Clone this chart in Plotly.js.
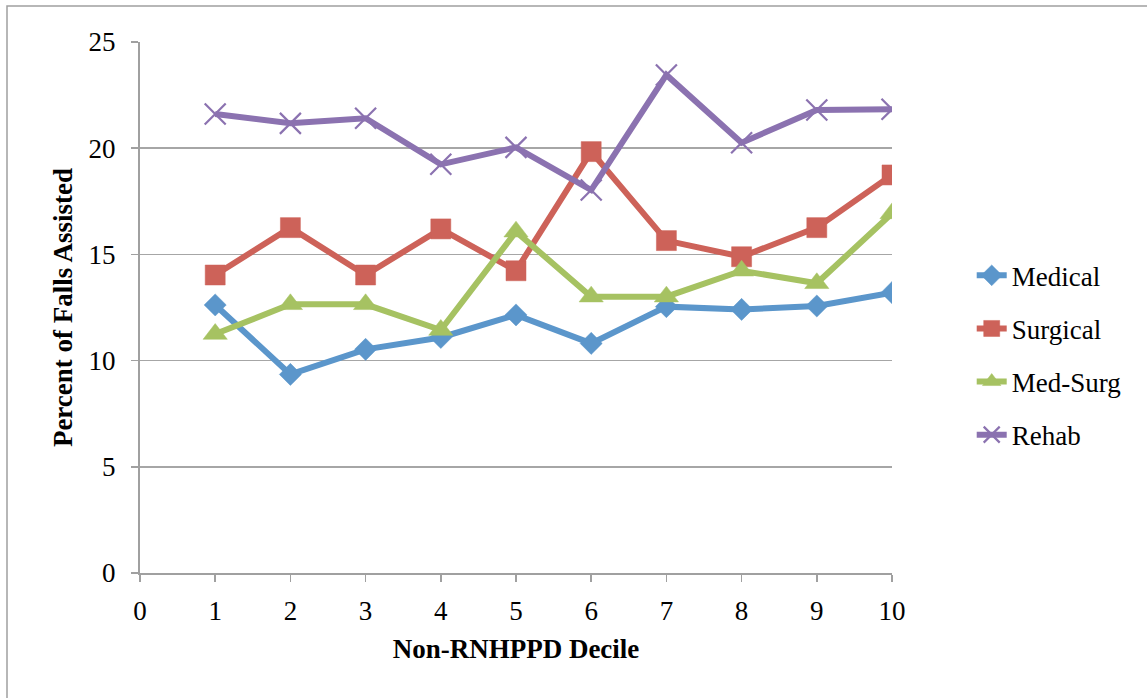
<!DOCTYPE html>
<html>
<head>
<meta charset="utf-8">
<script src="https://cdn.plot.ly/plotly-3.0.1.min.js"></script>
<style>
  html, body { margin: 0; padding: 0; background: #fff; }
  #chart { width: 1147px; height: 698px; }
</style>
</head>
<body>
<div id="chart"></div>
<script>
const deciles = [1, 2, 3, 4, 5, 6, 7, 8, 9, 10];
const medical = [12.62, 9.35, 10.53, 11.09, 12.15, 10.81, 12.54, 12.41, 12.57, 13.20];
const surgical = [14.03, 16.26, 14.03, 16.20, 14.23, 19.84, 15.65, 14.89, 16.26, 18.74];
const medSurg = [11.25, 12.65, 12.65, 11.44, 16.07, 13.01, 13.01, 14.23, 13.64, 16.93];
const rehab = [21.61, 21.17, 21.41, 19.24, 20.04, 18.03, 23.45, 20.26, 21.80, 21.83];
const xTickVals = [0, 1, 2, 3, 4, 5, 6, 7, 8, 9, 10];
const yTickVals = [0, 5, 10, 15, 20, 25];

const FONT = "'Liberation Serif', 'DejaVu Serif', serif";

function series(name, y, color, symbol, size, group) {
  const isX = symbol === 'x-thin';
  return {
    type: 'scatter', mode: 'lines+markers', name: name, x: deciles, y: y,
    legendgroup: group,
    line: { color: color, width: 6 },
    marker: {
      symbol: symbol, size: size, color: color,
      line: { color: color, width: isX ? 2.2 : 0.5 }
    }
  };
}

const data = [
  series('Medical', medical, '#5B96CB', 'diamond', 17, 'g1'),
  series('Surgical', surgical, '#CD6259', 'square', 20, 'g2'),
  series('Med-Surg', medSurg, '#A6C262', 'triangle-up', 21, 'g3'),
  series('Rehab', rehab, '#8B72B0', 'x-thin', 21, 'g4')
];

const layout = {
  width: 1147, height: 698,
  margin: { l: 140, r: 255, t: 42, b: 125 },
  paper_bgcolor: '#fff', plot_bgcolor: '#fff',
  font: { family: FONT, size: 27, color: '#000' },
  showlegend: true,
  legend: {
    x: 1.106, xanchor: 'left', y: 0.41, yanchor: 'middle',
    traceorder: 'grouped', tracegroupgap: 15,
    font: { family: FONT, size: 27, color: '#000' },
    bgcolor: 'rgba(0,0,0,0)'
  },
  xaxis: {
    range: [0, 10], tickvals: xTickVals, ticktext: xTickVals.map(String),
    showgrid: false, zeroline: false,
    showline: true, linecolor: '#A0A0A0', linewidth: 2,
    ticks: 'outside', ticklen: 7, tickcolor: '#A0A0A0', tickwidth: 1.5,
    ticklabelstandoff: 6,
    tickfont: { family: FONT, size: 27, color: '#000' },
    title: { text: '<b>Non-RNHPPD Decile</b>', font: { family: FONT, size: 27, color: '#000' }, standoff: 14 },
    fixedrange: true
  },
  yaxis: {
    range: [0, 25], tickvals: yTickVals, ticktext: yTickVals.map(String),
    showgrid: true, gridcolor: '#A6A6A6', gridwidth: 1.5, zeroline: false,
    showline: true, linecolor: '#A0A0A0', linewidth: 2,
    ticks: 'outside', ticklen: 7, tickcolor: '#A0A0A0', tickwidth: 1.5,
    ticklabelstandoff: 10,
    tickfont: { family: FONT, size: 27, color: '#000' },
    title: { text: '<b>Percent of Falls Assisted</b>', font: { family: FONT, size: 27, color: '#000' }, standoff: 8 },
    fixedrange: true
  },
  shapes: [{
    type: 'rect', xref: 'paper', yref: 'paper',
    x0: (7 - 140) / 752, x1: 1.5, y0: -0.4, y1: (573 - 6) / 531,
    line: { color: '#A0A0A0', width: 1.5 }, fillcolor: 'rgba(0,0,0,0)', layer: 'below'
  }]
};

Plotly.newPlot('chart', data, layout, { displayModeBar: false, staticPlot: true });
</script>
</body>
</html>
